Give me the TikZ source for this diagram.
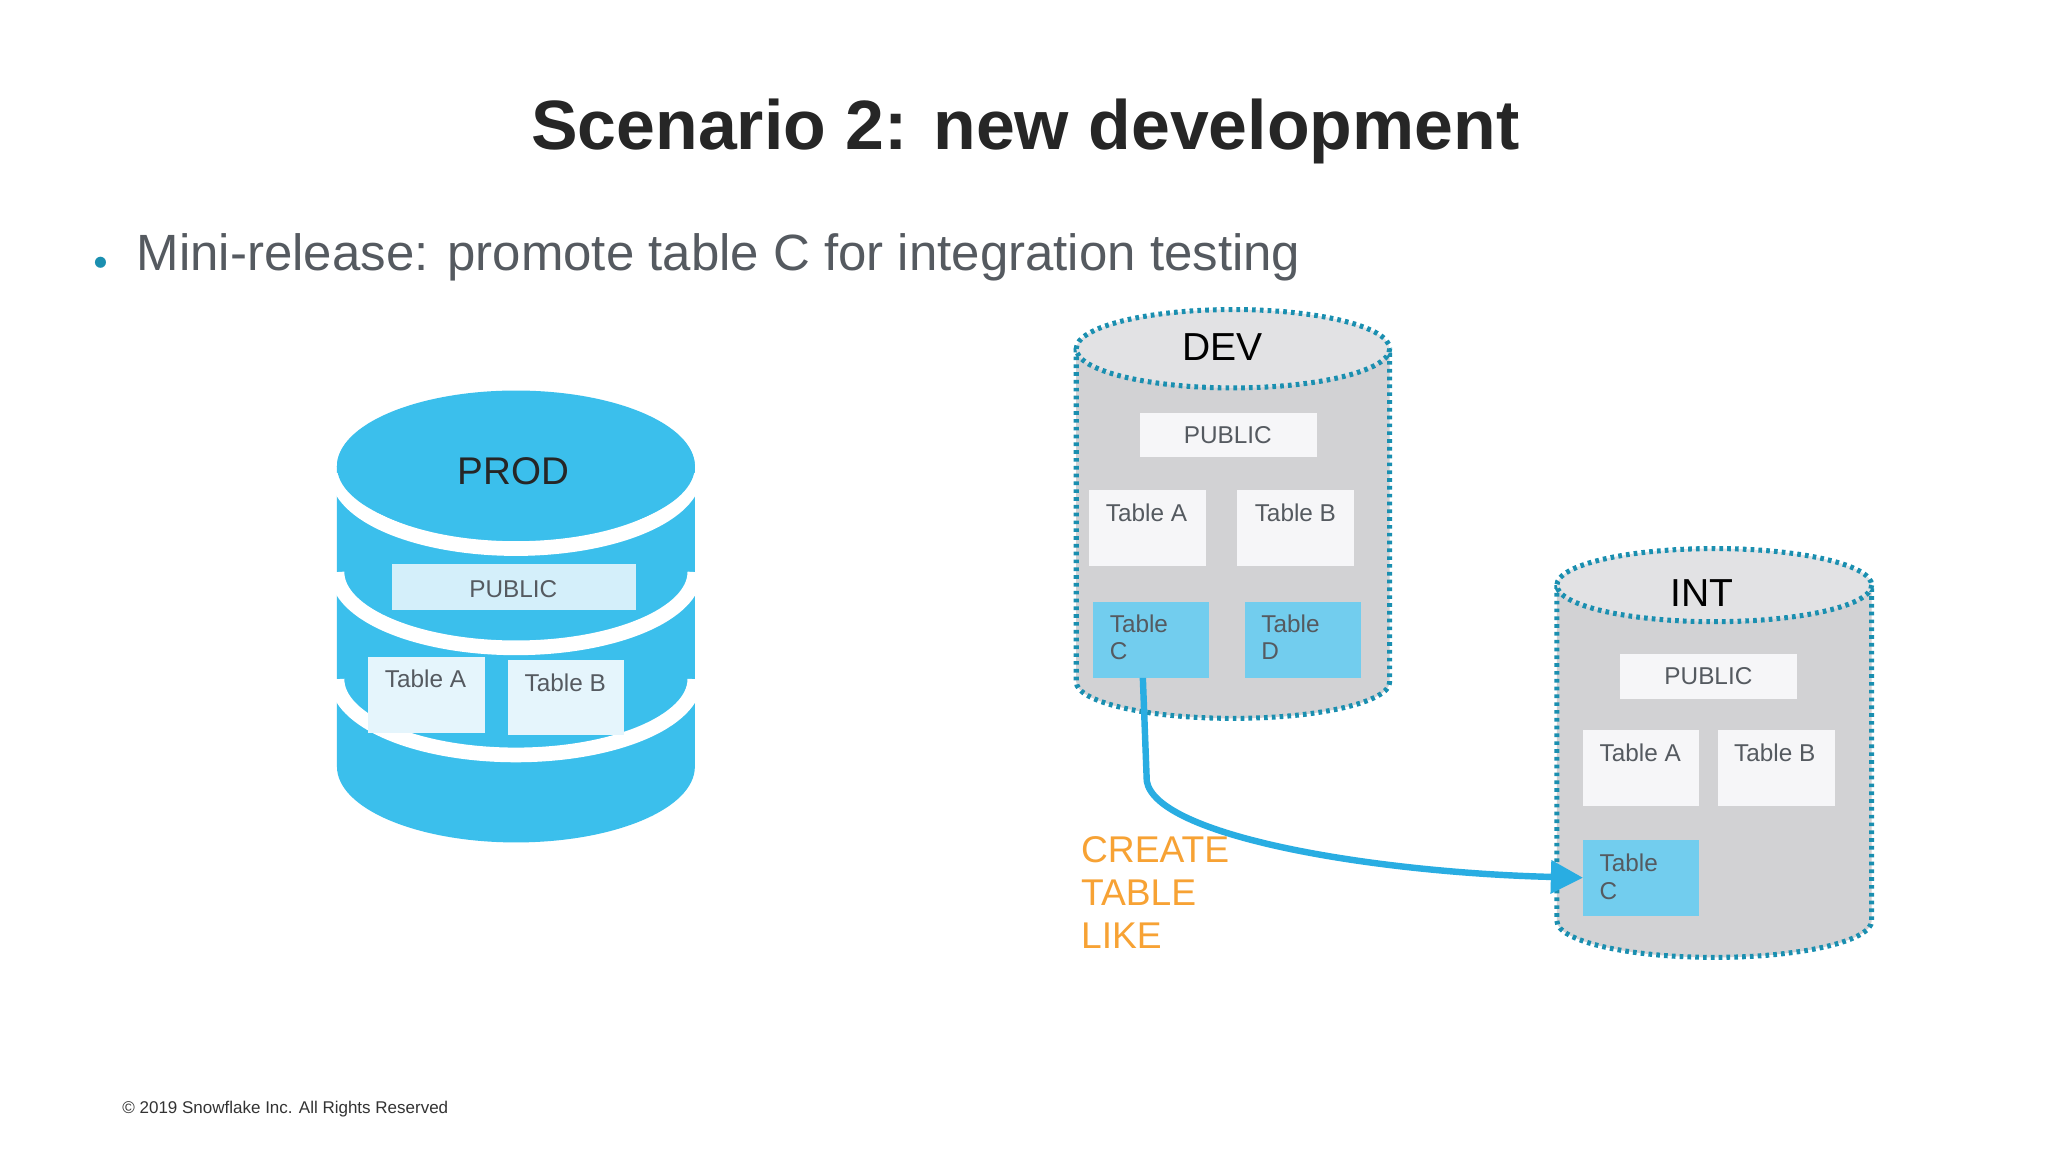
\documentclass[tikz,border=0pt]{standalone}
\usepackage{fontspec}
\setmainfont{Liberation Sans}
\usetikzlibrary{arrows.meta}
\definecolor{pblue}{HTML}{3BBFEC}
\definecolor{tblue}{HTML}{72CDEE}
\definecolor{lblue}{HTML}{D4EFFA}
\definecolor{dotc}{HTML}{1A8FB0}
\definecolor{cgray}{HTML}{D2D2D4}
\definecolor{tgray}{HTML}{E2E2E4}
\definecolor{wbox}{HTML}{F6F6F8}
\definecolor{txt}{HTML}{555A60}
\definecolor{orng}{HTML}{F7A234}
\definecolor{arr}{HTML}{29ADE2}
\begin{document}
\begin{tikzpicture}[x=0.01cm,y=-0.01cm,
  lab/.style={font=\fontsize{5.3}{6}\selectfont,text=txt,anchor=north west,align=left,inner sep=0pt},
  dotline/.style={draw=dotc,line width=1.1pt,dash pattern=on 0.8pt off 0.9pt}]
\useasboundingbox[fill=white] (0,0) rectangle (1568,882);
\node[font=\bfseries\fontsize{15.2}{17}\selectfont,text=black!85] (title) at (785,101) {Scenario 2: new development};
\node[font=\fontsize{2.5}{3}\selectfont,text=dotc] (bul) at (77,201) {$\bullet$};
\node[font=\fontsize{11.1}{13}\selectfont,text=txt,anchor=west,inner sep=0pt] (sub) at (104,197) {Mini-release: promote table C for integration testing};
% PROD
\fill[pblue] (258,357) -- (258,587) arc[start angle=180,end angle=0,x radius=137,y radius=58] -- (532,357) -- cycle;
\fill[pblue] (395,357) ellipse[x radius=137,y radius=58];
\foreach \c in {362,438,520}
  \draw[white,line width=3.2pt] (258,\c) arc[start angle=180,end angle=0,x radius=137,y radius=58];
\fill[pblue] (395,357) ellipse[x radius=137,y radius=56];
\node[font=\fontsize{8.4}{10}\selectfont,text=black!85] (prod) at (393,361) {PROD};
\fill[lblue] (300,432) rectangle (487,467);
\node[font=\fontsize{5.3}{6}\selectfont,text=txt] (pp) at (393,451) {PUBLIC};
\fill[lblue!60!white] (282,503) rectangle (371,561);
\fill[lblue!60!white] (389,505) rectangle (478,563);
\node[lab] (pa) at (294,512) {Table A};
\node[lab] (pb) at (401,515) {Table B};
% DEV
\path[fill=cgray,dotline] (824,267) -- (824,522) arc[start angle=180,end angle=0,x radius=120,y radius=28] -- (1064,267);
\path[fill=tgray,dotline] (944,267) ellipse[x radius=120,y radius=30];
\node[font=\fontsize{8.5}{10}\selectfont,text=black] (dev) at (936,266) {DEV};
\fill[wbox] (873,316) rectangle (1008,350);
\node[font=\fontsize{5.3}{6}\selectfont,text=txt] (dp) at (940,333) {PUBLIC};
\fill[wbox] (834,375) rectangle (923,433);
\fill[wbox] (947,375) rectangle (1037,433);
\node[lab] (da) at (846,385) {Table A};
\node[lab] (db) at (960,385) {Table B};
\fill[tblue] (837,461) rectangle (926,519);
\fill[tblue] (953,461) rectangle (1042,519);
\node[lab] (dc) at (849,470) {Table\\C};
\node[lab] (dd) at (965,470) {Table\\D};
% INT
\path[fill=cgray,dotline] (1192,448) -- (1192,705) arc[start angle=180,end angle=0,x radius=120.5,y radius=28] -- (1433,448);
\path[fill=tgray,dotline] (1312.5,448) ellipse[x radius=120.5,y radius=28];
\node[font=\fontsize{8.5}{10}\selectfont,text=black] (int) at (1303,454) {INT};
\fill[wbox] (1240,501) rectangle (1376,535);
\node[font=\fontsize{5.3}{6}\selectfont,text=txt] (ip) at (1308,518) {PUBLIC};
\fill[wbox] (1212,559) rectangle (1301,617);
\fill[wbox] (1315,559) rectangle (1405,617);
\node[lab] (ia) at (1224,569) {Table A};
\node[lab] (ib) at (1327,569) {Table B};
\fill[tblue] (1212,643) rectangle (1301,701);
\coordinate (ic) at (1212,672);
\node[lab] (icl) at (1224,653) {Table\\C};
% arrow
\coordinate (cs) at (875,519);
\draw[arr,line width=1.4pt,-{Triangle[length=7pt,width=7pt]}] (cs) -- (878,598) .. controls (885,640) and (1050,668) .. (ic);
\node[font=\fontsize{8.1}{9.3}\selectfont,text=orng,anchor=north west,align=left,inner sep=0pt] (ctl) at (827,640) {CREATE\\TABLE\\LIKE};
\node[font=\fontsize{3.7}{4.5}\selectfont,text=black!80,anchor=west,inner sep=0pt] (copy) at (93,849) {© 2019 Snowflake Inc. All Rights Reserved};
\end{tikzpicture}
\end{document}
